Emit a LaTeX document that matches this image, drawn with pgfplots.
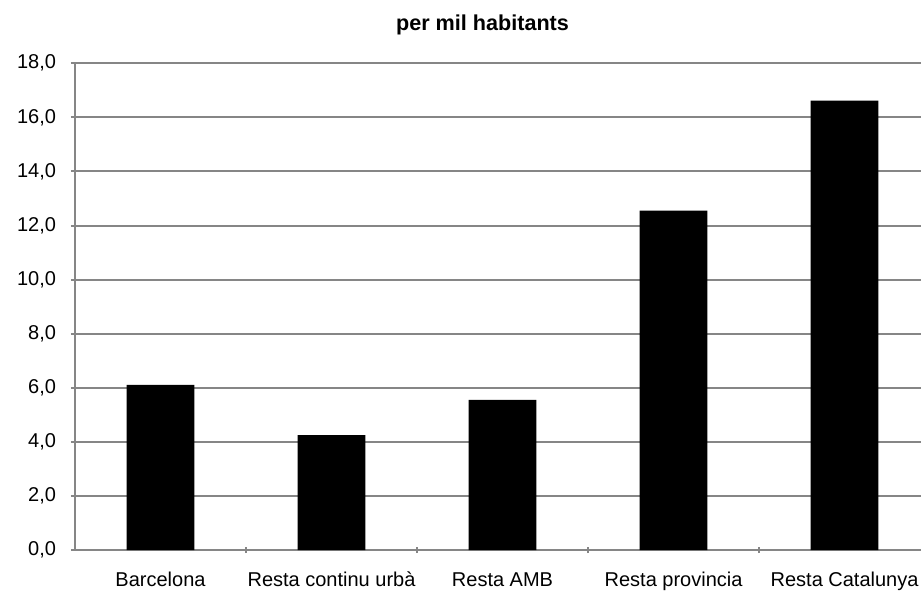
\documentclass[border=0pt]{standalone}
\usepackage{pgfplots}
\pgfplotsset{compat=1.18}
\usepackage{fontspec}
\setmainfont{Liberation Sans}
\definecolor{gridgray}{HTML}{868686}
\begin{document}
\begin{tikzpicture}
\useasboundingbox (-37.5bp,-21bp) rectangle (423bp,275bp);
\begin{axis}[
  scale only axis,
  width=423bp, height=243.35bp,
  at={(0,0)}, anchor=south west,
  xmin=-0.5, xmax=4.447,
  ymin=0, ymax=18,
  ytick={0,2,...,18},
  xtick={0,1,2,3,4},
  xticklabels={Barcelona,Resta continu urbà,Resta AMB,Resta provincia,Resta Catalunya},
  minor xtick={0.5,1.5,2.5,3.5},
  major x tick style={draw=none},
  tick align=outside,
  major tick length=4bp,
  minor tick length=3bp,
  tick style={gridgray, line width=1bp},
  axis lines=left,
  axis line style={-, gridgray, line width=1bp},
  ymajorgrids,
  major grid style={gridgray, line width=1bp},
  ticklabel style={font=\fontsize{10bp}{11bp}\selectfont},
  /pgf/number format/.cd, assume math mode=true, use comma, fixed, fixed zerofill, precision=1,
  /pgfplots/.cd,
  yticklabel style={xshift=-4bp},
  xticklabel style={yshift=-5bp, text height=7.5bp, text depth=2bp},
  clip=false,
]
\addplot[ybar, bar width=33.85bp, fill=black, draw=none] coordinates {
  (0,6.11) (1,4.25) (2,5.55) (3,12.55) (4,16.62)
};
\end{axis}
\node[font=\bfseries\fontsize{10.8bp}{12bp}\selectfont] at (203.75bp,262.5bp) {per mil habitants};
\end{tikzpicture}
\end{document}
